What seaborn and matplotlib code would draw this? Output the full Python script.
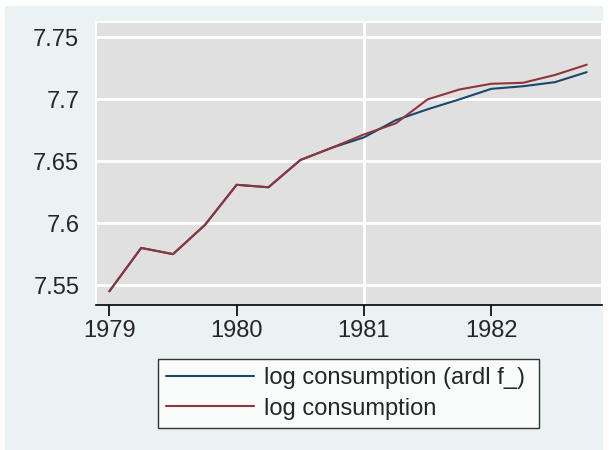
import numpy as np
import pandas as pd
import matplotlib
matplotlib.use("Agg")
import matplotlib.pyplot as plt
import seaborn as sns
from matplotlib.patches import Rectangle

# quarterly time axis (1979q1 .. 1982q4)
quarters = [1979.0, 1979.25, 1979.5, 1979.75,
            1980.0, 1980.25, 1980.5, 1980.75,
            1981.0, 1981.25, 1981.5, 1981.75,
            1982.0, 1982.25, 1982.5, 1982.75]
fitted = [7.545, 7.580, 7.575, 7.5985, 7.631, 7.629, 7.651, 7.661,
          7.6693, 7.6832, 7.692, 7.700, 7.7085, 7.7106, 7.7139, 7.722]
actual = [7.545, 7.580, 7.575, 7.5985, 7.631, 7.629, 7.651, 7.661,
          7.6717, 7.6806, 7.700, 7.708, 7.7126, 7.7134, 7.7197, 7.728]
series_names = ["log consumption (ardl f_)", "log consumption"]
yticks = [7.55, 7.6, 7.65, 7.7, 7.75]
yticklabels = ["7.55", "7.6", "7.65", "7.7", "7.75"]
xticks = [1979, 1980, 1981, 1982]

df = pd.DataFrame({
    "t": quarters * 2,
    "value": fitted + actual,
    "series": [series_names[0]] * len(fitted) + [series_names[1]] * len(actual),
})

sns.set_style("white")
plt.rcParams['font.family'] = ['Liberation Sans', 'DejaVu Sans']

fig = plt.figure(figsize=(6.13, 4.5), dpi=100)
fig.patch.set_facecolor("white")
# stata-like light bluish outer region
fig.patches.append(Rectangle((5 / 613, 0), 598 / 613, 444 / 450,
                             transform=fig.transFigure, facecolor="#eaf2f3",
                             edgecolor="none", zorder=-10))

ax = fig.add_axes([96 / 613, 1 - 305 / 450, 506 / 613, 283 / 450])
ax.set_facecolor("#e0e0e0")

sns.lineplot(data=df, x="t", y="value", hue="series", ax=ax,
             palette=["#1a476f", "#90353b"], linewidth=1.5, legend=True)

ax.set_xlim(1978.895, 1982.87)
ax.set_ylim(7.5339, 7.7625)
ax.set_yticks(yticks)
ax.set_yticklabels(yticklabels)
ax.set_xticks(xticks)
ax.set_xlabel("")
ax.set_ylabel("")

for y in yticks:
    ax.axhline(y, color="white", linewidth=2, zorder=0.5)
ax.axvline(1981, color="white", linewidth=2, zorder=0.5)

for side in ["left", "top", "right"]:
    ax.spines[side].set_color("white")
    ax.spines[side].set_linewidth(1.5)
ax.spines["bottom"].set_color("black")
ax.spines["bottom"].set_linewidth(1.2)

ax.tick_params(axis="y", length=0, pad=12, labelsize=17)
ax.tick_params(axis="x", length=8, width=1.2, color="black", direction="out",
               pad=3, labelsize=17, bottom=True)

handles, labels = ax.get_legend_handles_labels()
ax.get_legend().remove()
leg = fig.legend(handles, labels, loc="lower left",
                 bbox_to_anchor=(158 / 613, 22 / 450, 381 / 613, 73 / 450),
                 mode="expand", frameon=True, fontsize=17, handlelength=3.7,
                 handletextpad=0.45, labelspacing=0.38, borderpad=0.35,
                 fancybox=False, borderaxespad=0)
leg.get_frame().set_edgecolor("black")
leg.get_frame().set_linewidth(1)
leg.get_frame().set_facecolor("white")
for line in leg.get_lines():
    line.set_linewidth(1.5)

fig.savefig("out.png", dpi=100)
